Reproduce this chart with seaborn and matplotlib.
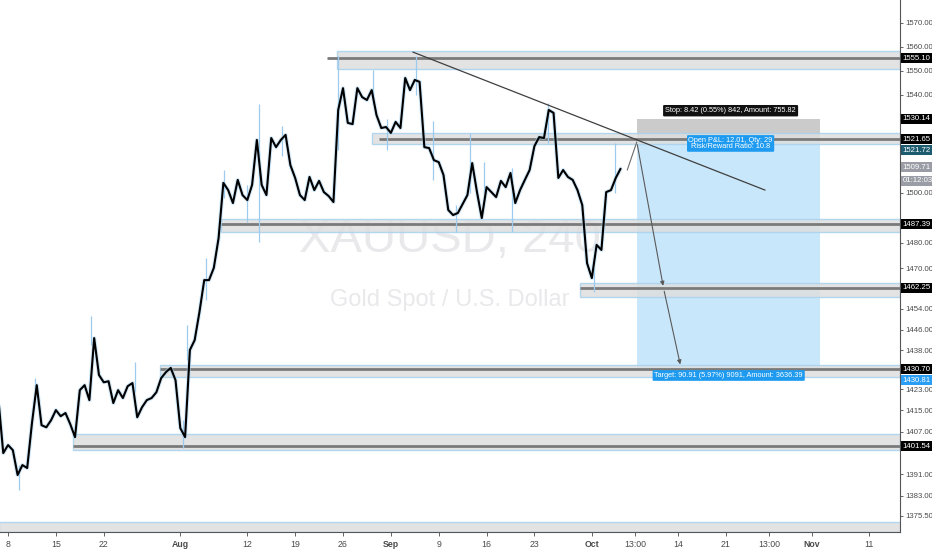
import pandas as pd
import matplotlib
matplotlib.use('Agg')
from matplotlib import pyplot as plt
from matplotlib import transforms
from matplotlib.patches import Rectangle
from matplotlib.ticker import FixedLocator, NullLocator
import seaborn as sns

# half-day closes (first slot = trading day -1, step 0.5 day)
closes = [1418.9, 1398.9, 1401.9, 1400.0, 1390.7, 1394.4, 1393.3, 1410.2, 1424.6, 1409.4,
          1408.6, 1411.3, 1415.1, 1412.8, 1414.0, 1409.8, 1404.9, 1422.7, 1424.6, 1418.9,
          1442.7, 1428.5, 1425.7, 1426.1, 1417.8, 1422.7, 1419.7, 1424.2, 1425.4, 1412.4,
          1416.2, 1418.9, 1419.7, 1421.9, 1427.3, 1429.6, 1431.2, 1426.5, 1408.3, 1404.9,
          1438.1, 1441.9, 1452.8, 1465.3, 1465.3, 1470.1, 1481.9, 1504.0, 1501.1, 1495.9,
          1505.2, 1499.1, 1497.1, 1503.2, 1521.4, 1503.2, 1499.1, 1522.2, 1518.5, 1521.4,
          1523.5, 1511.2, 1506.0, 1499.1, 1497.1, 1506.4, 1501.1, 1504.8, 1500.3, 1498.7,
          1496.3, 1533.7, 1542.7, 1528.4, 1527.9, 1542.7, 1539.0, 1537.8, 1541.9, 1531.6,
          1526.3, 1526.7, 1524.3, 1528.8, 1526.3, 1546.9, 1541.9, 1546.1, 1545.3, 1518.5,
          1518.1, 1513.2, 1512.4, 1507.2, 1493.1, 1491.1, 1491.9, 1495.5, 1499.1, 1512.0,
          1500.3, 1489.9, 1502.3, 1500.3, 1498.3, 1504.8, 1502.3, 1508.0, 1495.9, 1501.1,
          1505.2, 1509.2, 1518.9, 1522.6, 1522.2, 1533.7, 1532.5, 1506.0, 1509.2, 1506.4,
          1505.2, 1501.1, 1495.1, 1472.0, 1466.1, 1479.2, 1477.2, 1500.3, 1501.1, 1506.0,
          1509.7]
first_day = -1.0
slot = 0.5

# notable wicks (trading day, low, high)
wick_day = [1.15, 2.8, 8.67, 13.3, 18.3, 18.7, 20.7, 22.6, 25.0, 26.2, 28.6, 34.5,
            38.1, 39.6, 42.6, 44.4, 46.8, 48.3, 49.7, 52.7, 56.4, 61.2, 63.4]
wick_low = [1385.1, 1421.9, 1440.0, 1421.9, 1400.8, 1434.2, 1457.5, 1497.9, 1488.3, 1480.3,
            1515.0, 1517.3, 1536.0, 1517.3, 1540.0, 1505.2, 1484.3, 1500.0, 1500.0, 1484.3,
            1520.0, 1460.6, 1500.0]
wick_high = [1394.4, 1427.3, 1451.4, 1433.4, 1411.3, 1447.7, 1474.0, 1509.2, 1503.2, 1536.0,
             1527.1, 1556.1, 1550.2, 1530.0, 1556.1, 1529.2, 1495.0, 1524.3, 1512.4, 1510.0,
             1536.6, 1470.0, 1520.2]

# support / resistance zones
zone_start = [34.4, 38.0, 22.2, 59.8, 15.9, 6.8, -0.9]
zone_low = [1550.7, 1519.8, 1484.3, 1458.7, 1427.6, 1400.0, 1369.7]
zone_high = [1558.1, 1524.4, 1489.5, 1464.1, 1432.3, 1406.0, 1373.3]
level_price = [1555.10, 1521.65, 1487.39, 1462.25, 1430.70, 1401.54]
level_start = [33.3, 38.8, 22.2, 59.8, 15.9, 6.8]

# short position tool
entry, stop, target = 1521.72, 1530.14, 1430.81
pos_start, pos_end = 65.7, 84.85

tick_days = [0, 5, 10, 18, 25, 30, 35, 40, 45, 50, 55, 61, 65.5, 70, 75, 79.5, 84, 90]
tick_labels = ['8', '15', '22', 'Aug', '12', '19', '26', 'Sep', '9', '16', '23', 'Oct',
               '13:00', '14', '21', '13:00', 'Nov', '11']
price_ticks = [1570, 1560, 1550, 1540, 1500, 1480, 1470, 1454, 1446, 1438,
               1423, 1415, 1407, 1391, 1383, 1375.5]

tags = [('1555.10', 1555.1, 'black'), ('1530.14', 1530.14, 'black'),
        ('1521.65', 1521.65, 'black'), ('1521.72', 1517.3, '#1c5c6e'),
        ('1509.71', 1510.4, '#9a9da5'), ('01:12:03', 1504.8, '#9a9da5'),
        ('1487.39', 1487.39, 'black'), ('1462.25', 1462.25, 'black'),
        ('1430.70', 1430.7, 'black'), ('1430.81', 1426.5, '#2a9df4'),
        ('1401.54', 1401.54, 'black')]

sns.set_theme(style='white')
plt.rcParams['font.family'] = ['Liberation Sans', 'DejaVu Sans']

df = pd.DataFrame({'close': closes})
df['day'] = first_day + slot * df.index

fig = plt.figure(figsize=(9.32, 5.5), dpi=100)
ax = fig.add_axes([0, 18 / 550, 900 / 932, 532 / 550])
ax.set_yscale('log')
ax.set_xlim(-0.84, 93.2)
ax.set_ylim(1369.6, 1579.6)
x_end = 93.2

# watermark
ax.text(0.5, 0.549, 'XAUUSD, 240', transform=ax.transAxes, ha='center', va='center',
        fontsize=34, color='#e9e9ec', zorder=0)
ax.text(0.5, 0.436, 'Gold Spot / U.S. Dollar', transform=ax.transAxes, ha='center',
        va='center', fontsize=17, color='#e9e9ec', zorder=0)

# position tool
ax.add_patch(Rectangle((pos_start, entry), pos_end - pos_start, stop - entry,
                       fc='#cbcbcb', ec='none', zorder=1))
ax.add_patch(Rectangle((pos_start, target), pos_end - pos_start, entry - target,
                       fc='#c9e7fb', ec='none', zorder=1))

# zones
for s, lo, hi in zip(zone_start, zone_low, zone_high):
    ax.add_patch(Rectangle((s, lo), x_end - s, hi - lo, fc='#dedede', ec='#a9d2ef',
                           lw=1, alpha=0.85, zorder=2))
for p, s in zip(level_price, level_start):
    ax.hlines(p, s, x_end, color='#7a7a7a', lw=2, zorder=3)

# price
ax.vlines(wick_day, wick_low, wick_high, color='#9ccbee', lw=0.9, zorder=4)
sns.lineplot(data=df, x='day', y='close', ax=ax, color='#a8d4f2', lw=3, alpha=0.5,
             zorder=4)
sns.lineplot(data=df, x='day', y='close', ax=ax, color='black', lw=1.5, zorder=5)

# trend line
ax.plot([42.3, 79.1], [1557.7, 1501.1], color='#3f3f3f', lw=0.9, zorder=6)

# forecast path
ax.plot([64.7, 65.7], [1509.2, 1520.6], color='#6a6a6a', lw=0.8, zorder=6)
ax.annotate('', xy=(68.5, 1462.0), xytext=(65.7, 1520.6),
            arrowprops=dict(arrowstyle='-|>', color='#5a5a5a', lw=0.8, mutation_scale=6),
            zorder=6)
ax.annotate('', xy=(70.3, 1431.5), xytext=(68.5, 1462.0),
            arrowprops=dict(arrowstyle='-|>', color='#5a5a5a', lw=0.8, mutation_scale=6),
            zorder=6)

ax.text(75.5, 1533.4, 'Stop: 8.42 (0.55%) 842, Amount: 755.82', ha='center', va='center',
        fontsize=5.3, color='white', zorder=7,
        bbox=dict(boxstyle='round,pad=0.3,rounding_size=0.15', fc='#111111', ec='none'))
ax.text(75.5, 1520.0, 'Open P&L: 12.01, Qty: 29\nRisk/Reward Ratio: 10.8', ha='center',
        va='center', fontsize=5.3, color='white', zorder=7, linespacing=0.95,
        bbox=dict(boxstyle='round,pad=0.2,rounding_size=0.15', fc='#1e9bf0', ec='none'))
ax.text(75.3, 1428.3, 'Target: 90.91 (5.97%) 9091, Amount: 3636.39', ha='center',
        va='center', fontsize=5.3, color='white', zorder=7,
        bbox=dict(boxstyle='round,pad=0.25,rounding_size=0.15', fc='#1e9bf0', ec='none'))

# axes styling
ax.set_xlabel('')
ax.set_ylabel('')
ax.yaxis.tick_right()
ax.yaxis.set_major_locator(FixedLocator(price_ticks))
ax.yaxis.set_minor_locator(NullLocator())
ax.set_yticklabels([f'{p:.2f}' for p in price_ticks])
ax.set_xticks(tick_days)
ax.set_xticklabels(tick_labels)
for lbl in ax.get_xticklabels():
    if lbl.get_text() in ('Aug', 'Sep', 'Oct', 'Nov'):
        lbl.set_fontweight('bold')
ax.tick_params(axis='y', which='both', right=True, left=False, length=2.5, width=0.6,
               pad=1, labelsize=5.6, colors='#4a4a4a')
ax.tick_params(axis='x', bottom=True, length=3, width=0.6, pad=3, labelsize=6.3,
               colors='#4a4a4a')
for side in ('top', 'left'):
    ax.spines[side].set_visible(False)
for side in ('right', 'bottom'):
    ax.spines[side].set_color('#555555')
    ax.spines[side].set_linewidth(0.8)

blend = transforms.blended_transform_factory(ax.transAxes, ax.transData)
for txt, p, col in tags:
    ax.text(1.003, p, txt, transform=blend, ha='left', va='center', fontsize=5.6,
            color='white', zorder=8, clip_on=False,
            bbox=dict(boxstyle='square,pad=0.18', fc=col, ec='none'))

fig.savefig('out.png', dpi=100, facecolor='white')
